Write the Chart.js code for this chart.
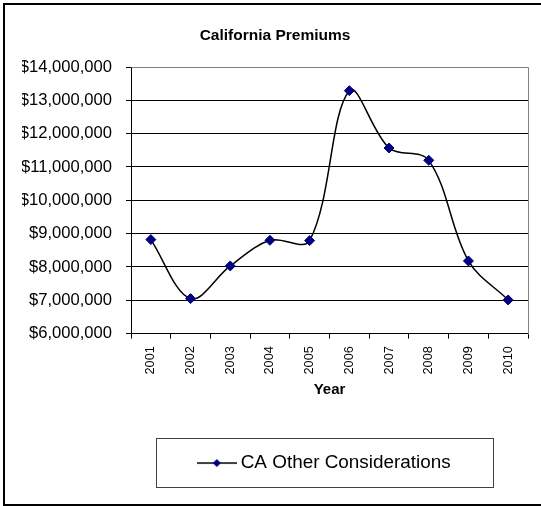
<!DOCTYPE html>
<html>
<head>
<meta charset="utf-8">
<script src="https://cdn.jsdelivr.net/npm/chart.js@4/dist/chart.umd.min.js"></script>
<style>
  body { margin: 0; background: #fff; }
  #wrap { width: 541px; height: 506px; }
</style>
</head>
<body>
<div id="wrap"><canvas id="grafico"></canvas></div>
<script>
// Datos
const years = ['2001', '2002', '2003', '2004', '2005', '2006', '2007', '2008', '2009', '2010'];
const premiums = [8820000, 7050000, 8030000, 8800000, 8790000, 13290000, 11570000, 11200000, 8180000, 7010000];
const seriesName = 'CA Other Considerations';
const yMin = 6000000;
const yMax = 14000000;
const yStep = 1000000;

const FONT = "'Liberation Sans', Arial, sans-serif";

// Muestra de la leyenda: línea con rombo
const muestra = document.createElement('canvas');
muestra.width = 40;
muestra.height = 12;
(function() {
    const c = muestra.getContext('2d');
    c.strokeStyle = '#000';
    c.lineWidth = 1.5;
    c.beginPath();
    c.moveTo(0, 6);
    c.lineTo(40, 6);
    c.stroke();
    c.fillStyle = '#000080';
    c.beginPath();
    c.moveTo(20, 2);
    c.lineTo(24, 6);
    c.lineTo(20, 10);
    c.lineTo(16, 6);
    c.closePath();
    c.fill();
})();

// Marco exterior, borde del área de trazado y caja de la leyenda
const marcos = {
    id: 'marcos',
    afterLayout(chart) {
        chart.legend.left -= 3;
        chart.legend.right -= 3;
    },
    beforeDatasetsDraw(chart) {
        const a = chart.chartArea;
        const ctx = chart.ctx;
        ctx.save();
        ctx.strokeStyle = '#808080';
        ctx.lineWidth = 1;
        ctx.beginPath();
        ctx.moveTo(Math.round(a.left) + 0.5, Math.round(a.top) + 0.5);
        ctx.lineTo(Math.round(a.right) + 0.5, Math.round(a.top) + 0.5);
        ctx.lineTo(Math.round(a.right) + 0.5, Math.round(a.bottom) + 0.5);
        ctx.stroke();
        ctx.restore();
    },
    afterDraw(chart) {
        const ctx = chart.ctx;
        ctx.save();
        ctx.strokeStyle = '#000';
        ctx.lineWidth = 2;
        ctx.strokeRect(4, 4, chart.width + 10, chart.height - 5);
        const hb = chart.legend.legendHitBoxes[0];
        if (hb) {
            const cy = hb.top + hb.height / 2;
            const x0 = Math.round(hb.left - 46) + 0.5;
            const x1 = Math.round(hb.left + hb.width + 42) + 0.5;
            const y0 = Math.round(cy - 25) + 0.5;
            const y1 = Math.round(cy + 24) + 0.5;
            ctx.strokeStyle = '#404040';
            ctx.lineWidth = 1;
            ctx.strokeRect(x0, y0, x1 - x0, y1 - y0);
        }
        ctx.restore();
    }
};

const ctx = document.getElementById('grafico').getContext('2d');
new Chart(ctx, {
    type: 'line',
    data: {
        labels: years,
        datasets: [{
            label: seriesName,
            data: premiums,
            borderColor: '#000',
            borderWidth: 1.5,
            tension: 0.35,
            fill: false,
            pointStyle: 'rectRot',
            pointRadius: 5,
            pointBackgroundColor: '#000080',
            pointBorderColor: '#000080',
            pointBorderWidth: 1
        }]
    },
    options: {
        responsive: true,
        maintainAspectRatio: false,
        animation: false,
        layout: { padding: { left: 22, right: 13, top: 0, bottom: 23.5 } },
        scales: {
            x: {
                offset: true,
                afterFit: (scale) => { scale.height = 110; },
                grid: { offset: true, drawOnChartArea: false, drawTicks: true, tickLength: 5, color: '#000' },
                border: { color: '#000', width: 1 },
                ticks: {
                    autoSkip: false,
                    minRotation: 90,
                    maxRotation: 90,
                    padding: 7.5,
                    color: '#000',
                    font: { family: FONT, size: 12.8 }
                },
                title: {
                    display: true,
                    text: 'Year',
                    color: '#000',
                    font: { family: FONT, size: 15, weight: 'bold' },
                    padding: { top: 4, bottom: 45 }
                }
            },
            y: {
                min: yMin,
                max: yMax,
                afterFit: (scale) => { scale.width = 109; },
                grid: { color: '#000', tickLength: 5, drawTicks: true },
                border: { color: '#000', width: 1 },
                ticks: {
                    stepSize: yStep,
                    padding: 14,
                    color: '#000',
                    font: { family: FONT, size: 16.6 },
                    callback: (v) => '$' + Number(v).toLocaleString('en-US')
                }
            }
        },
        plugins: {
            title: {
                display: true,
                text: 'California Premiums',
                color: '#000',
                font: { family: FONT, size: 15.5, weight: 'bold' },
                padding: { top: 26.7, bottom: 21.7 }
            },
            legend: {
                display: true,
                position: 'bottom',
                fullSize: false,
                labels: {
                    usePointStyle: true,
                    pointStyle: muestra,
                    pointStyleWidth: 29,
                    padding: 10,
                    color: '#000',
                    font: { family: FONT, size: 18.9 }
                }
            },
            tooltip: { enabled: false }
        }
    },
    plugins: [marcos]
});
</script>
</body>
</html>
